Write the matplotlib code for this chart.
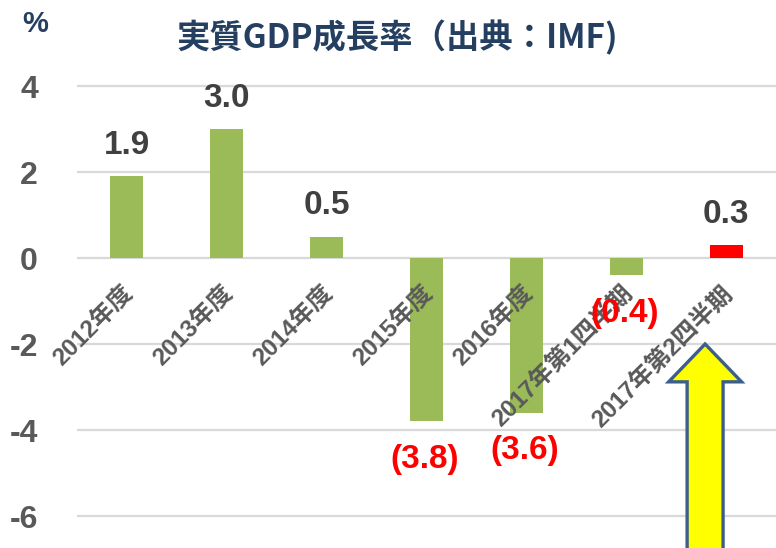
import matplotlib
matplotlib.use("Agg")
import matplotlib.pyplot as plt
from matplotlib import font_manager
from matplotlib.patches import Polygon

# ---- data ----
categories = ["2012年度", "2013年度", "2014年度", "2015年度", "2016年度",
              "2017年第1四半期", "2017年第2四半期"]
values = [1.9, 3.0, 0.5, -3.8, -3.6, -0.4, 0.3]
bar_colors = ["#9BBB59", "#9BBB59", "#9BBB59", "#9BBB59", "#9BBB59", "#9BBB59", "#FF0000"]
yticks = [4, 2, 0, -2, -4, -6]
title = "実質GDP成長率（出典：IMF)"
unit = "%"

# ---- fonts ----
names = {f.name for f in font_manager.fontManager.ttflist}
narrow = "Liberation Sans Narrow" if "Liberation Sans Narrow" in names else "Liberation Sans"
fam = [narrow, "Noto Sans CJK JP", "DejaVu Sans"]
cjk = ["Noto Sans CJK JP", "DejaVu Sans"]
plt.rcParams["font.family"] = fam

fig = plt.figure(figsize=(7.76, 5.48), dpi=100)
W, H = 776, 548
ax_left, ax_right, ax_top, ax_bottom = 77, 776, 84, 548
ax = fig.add_axes([ax_left / W, 1 - ax_bottom / H, (ax_right - ax_left) / W, (ax_bottom - ax_top) / H])

x = list(range(len(values)))
ax.bar(x, values, width=0.33, color=bar_colors, zorder=3)

ax.set_xlim(-0.5, len(values) - 0.5)
ax.set_ylim(-6.744, 4.047)
ax.set_yticks(yticks)
ax.set_yticklabels([str(t) for t in yticks])
ax.tick_params(axis="y", length=0, pad=28, labelsize=23, labelcolor="#595959")
for lab in ax.get_yticklabels():
    lab.set_fontweight("bold")
ax.set_xticks([])
ax.grid(axis="y", color="#D9D9D9", linewidth=1.6, zorder=0)
for s in ax.spines.values():
    s.set_visible(False)

# category labels rotated at the zero line
for i, c in enumerate(categories):
    ax.annotate(c, xy=(i, 0), xytext=(3, -32), textcoords="offset pixels",
                rotation=45, rotation_mode="anchor", ha="right", va="center",
                fontsize=17.5, fontweight="bold", color="#595959", zorder=4,
                annotation_clip=False)

# value labels
for i, v in enumerate(values):
    if v >= 0:
        ax.annotate(f"{v:.1f}", xy=(i, v), xytext=(0, 31), textcoords="offset pixels",
                    ha="center", va="center", fontsize=24, fontweight="bold",
                    color="#404040", zorder=5)
    else:
        ax.annotate(f"({abs(v):.1f})", xy=(i, v), xytext=(-2, -38), textcoords="offset pixels",
                    ha="center", va="center", fontsize=24, fontweight="bold",
                    color="#FF0000", zorder=5)

# highlight arrow (annotation shape)
xc = 5.79
shaft_hw = 0.18
head_hw = 0.365
tip_y = -2.0
head_base_y = -2.88
bottom_y = -8.0
arrow_pts = [(xc, tip_y), (xc + head_hw, head_base_y), (xc + shaft_hw, head_base_y),
             (xc + shaft_hw, bottom_y), (xc - shaft_hw, bottom_y),
             (xc - shaft_hw, head_base_y), (xc - head_hw, head_base_y)]
ax.add_patch(Polygon(arrow_pts, closed=True, facecolor="#FFFF00", edgecolor="#3B5E8C",
                     linewidth=2.4, zorder=6, joinstyle="miter"))

# title and unit
fig.text(397 / W, 1 - 38 / H, title, ha="center", va="center", fontsize=24,
         fontweight="bold", color="#243F60", family=cjk)
fig.text(35 / W, 1 - 24 / H, unit, ha="center", va="center", fontsize=21,
         fontweight="bold", color="#243F60", family=fam)

fig.savefig("out.png", dpi=100)
